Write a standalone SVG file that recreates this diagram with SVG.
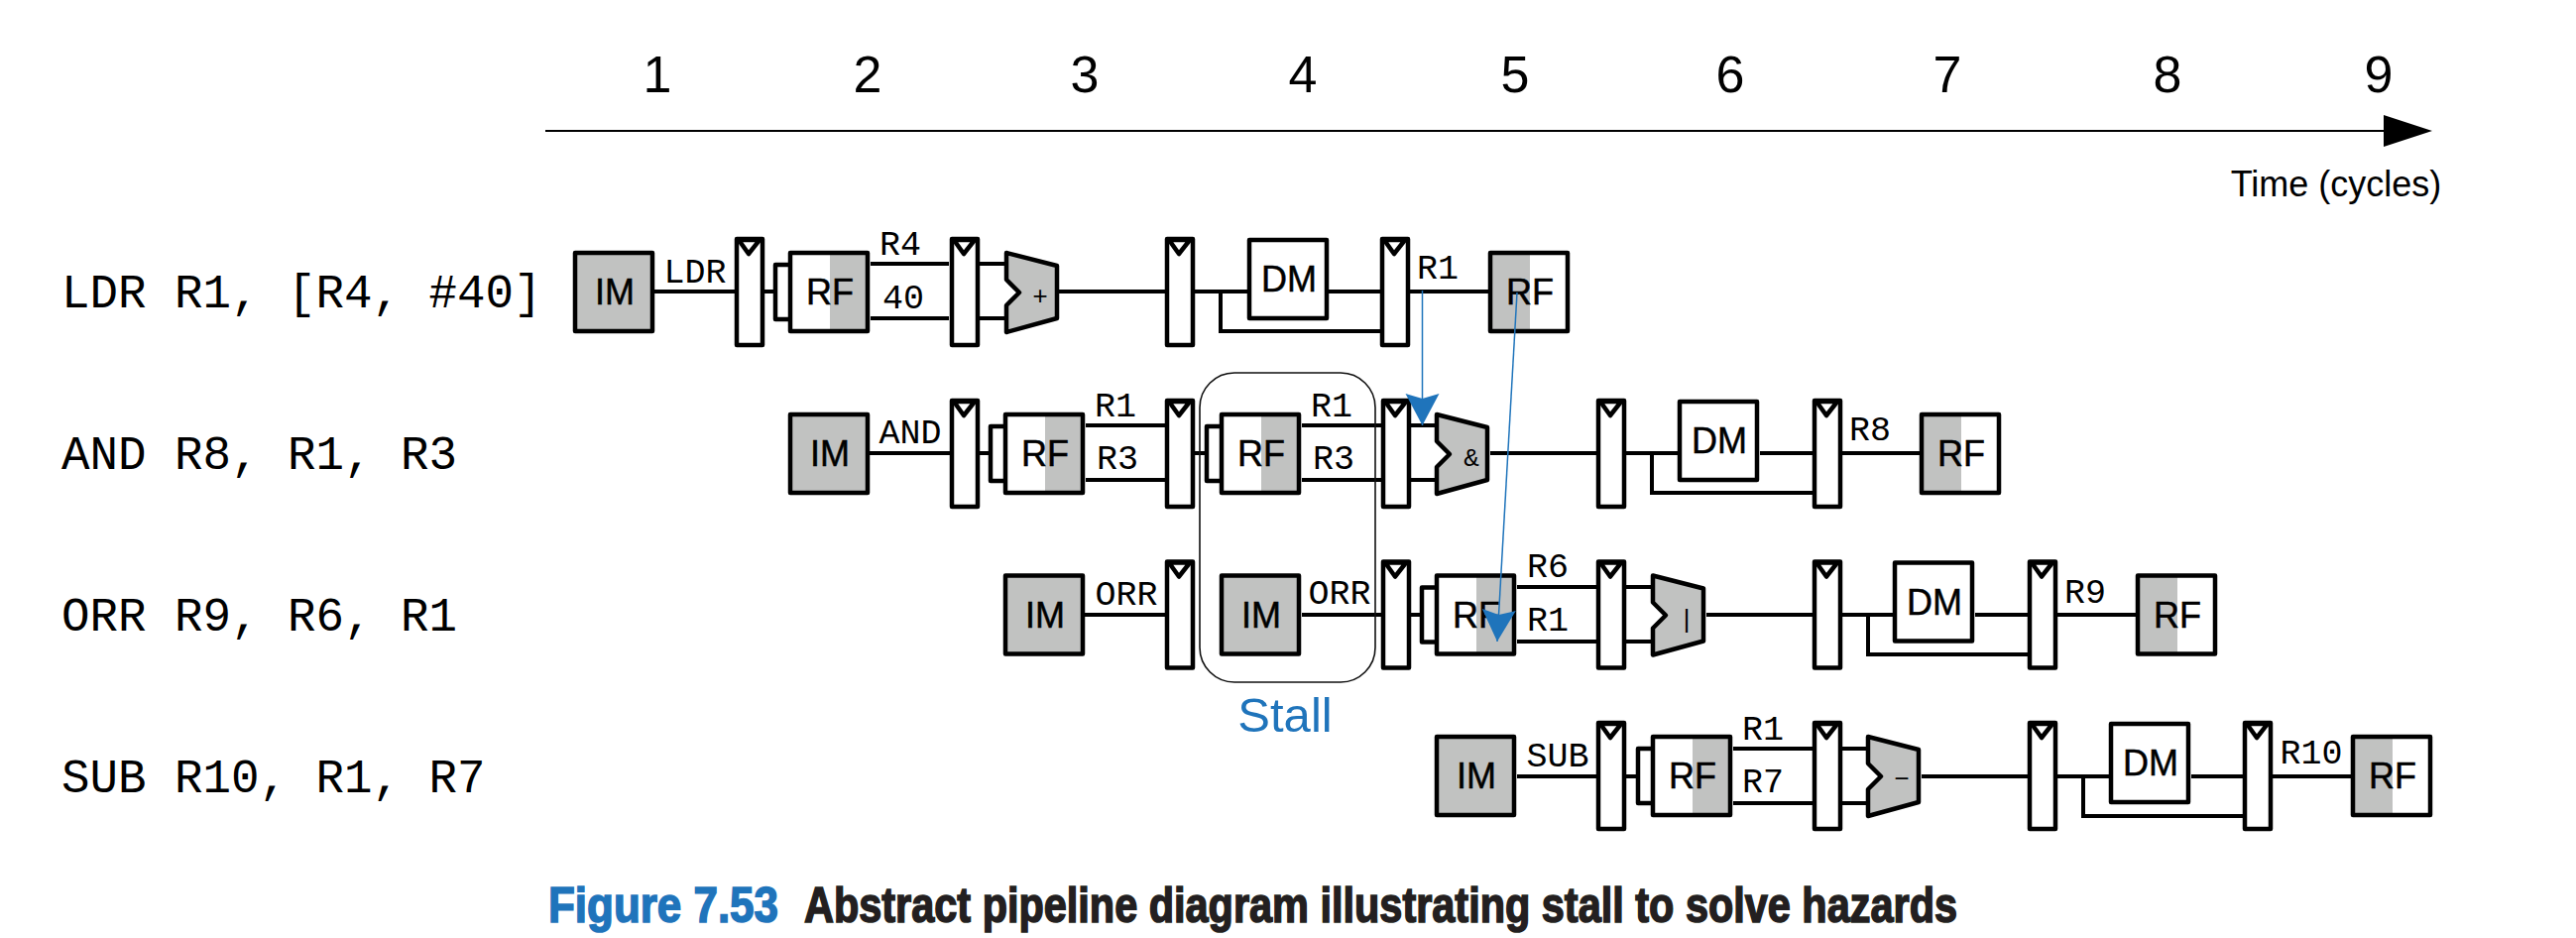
<svg xmlns="http://www.w3.org/2000/svg" xmlns:xlink="http://www.w3.org/1999/xlink" width="2598" height="946" viewBox="0 0 2598 946">
<style>
text{fill:#000}
.s{font-family:"Liberation Sans",Arial,sans-serif;text-anchor:middle}
.b{font-size:36px;stroke:#000;stroke-width:.5px}
.n{font-size:52px}
.m{font-family:"Liberation Mono","Courier New",monospace;text-anchor:middle;font-size:35px}
.i{font-family:"Liberation Mono","Courier New",monospace;font-size:47.5px}
.o{font-size:26px}
.w{fill:none;stroke:#000;stroke-width:4}
.bx{fill:none;stroke:#000;stroke-width:4.5;stroke-linejoin:round}
.wf{fill:#fff;stroke:#000;stroke-width:4.5;stroke-linejoin:round}
.gr{fill:#c1c2c1;stroke:#000;stroke-width:4.5;stroke-linejoin:round}
.sh{fill:#c1c2c1}
.bl{fill:none;stroke:#1f74bb;stroke-width:1.5;marker-end:url(#ba)}
.c{font-family:"Liberation Sans",Arial,sans-serif;font-weight:700;font-size:50px;stroke-width:1.6px}
</style>
<defs>
<marker id="ba" markerUnits="userSpaceOnUse" markerWidth="36" markerHeight="36" viewBox="0 0 36 36" refX="32" refY="18" orient="auto"><path d="M32,18L0,1L5,18L0,35Z" fill="#1f74bb"/></marker>
<g id="im"><rect class="gr" x="2" y="2" width="78" height="79"/><text class="s b" x="42" y="54">IM</text></g>
<g id="dm"><rect class="wf" x="2" y="2" width="78" height="79"/><text class="s b" x="42" y="54">DM</text></g>
<g id="rf"><path class="bx" d="M2,14H-13V69H2"/><rect x="2" y="2" width="78" height="79" fill="#fff"/><rect class="sh" x="42" y="2" width="38" height="79"/><rect class="bx" x="2" y="2" width="78" height="79"/><text class="s b" x="42" y="54">RF</text></g>
<g id="wb"><rect x="2" y="2" width="78" height="79" fill="#fff"/><rect class="sh" x="2" y="2" width="40" height="79"/><rect class="bx" x="2" y="2" width="78" height="79"/><text class="s b" x="42" y="54">RF</text></g>
<g id="rg"><rect class="wf" x="2" y="2" width="26" height="107"/><path class="bx" d="M4,3H25L14,17Z"/></g>
<polygon id="al" class="gr" points="2,2 53,15 53,68 2,82 2,55 15,42 2,29"/>
</defs>

<g id="axis"><path d="M550,132H2410" fill="none" stroke="#000" stroke-width="2"/><polygon points="2404,116 2453,132 2404,148" fill="#000"/>
<text class="s n" x="663" y="93">1</text><text class="s n" x="875" y="93">2</text><text class="s n" x="1094" y="93">3</text><text class="s n" x="1314" y="93">4</text><text class="s n" x="1528" y="93">5</text><text class="s n" x="1745" y="93">6</text><text class="s n" x="1964" y="93">7</text><text class="s n" x="2186" y="93">8</text><text class="s n" x="2399" y="93">9</text>
<text class="s" font-size="36" x="2356" y="198">Time (cycles)</text></g>

<g id="instructions">
<text class="i" x="62" y="310">LDR R1, [R4, #40]</text>
<text class="i" x="62" y="473">AND R8, R1, R3</text>
<text class="i" x="62" y="636">ORR R9, R6, R1</text>
<text class="i" x="62" y="799">SUB R10, R1, R7</text>
</g>

<g id="connectors" transform="translate(0,-1)">
<path class="w" d="M660,295H741M770,295H782M878,267H957M878,322H957M988,267H1015M988,322H1015M1068,295H1175M1205,295H1260M1231,295V335H1392M1340,295H1392M1422,295H1503"/>
<path class="w" d="M877,458H958M988,458H999M1095,430H1175M1095,485H1175M1205,458H1217M1313,430H1393M1313,485H1393M1422,430H1449M1422,485H1449M1503,458H1610M1640,458H1692M1666,458V498H1828M1775,458H1828M1858,458H1937"/>
<path class="w" d="M1094,621H1175M1313,621H1393M1422,621H1434M1530,593H1610M1530,648H1610M1640,593H1667M1640,648H1667M1721,621H1828M1858,621H1909M1884,621V661H2045M1992,621H2045M2075,621H2155"/>
<path class="w" d="M1530,784H1610M1640,784H1652M1748,756H1828M1748,811H1828M1858,756H1884M1858,811H1884M1938,784H2045M2075,784H2127M2101,784V824H2262M2210,784H2262M2292,784H2372"/>
</g>

<g id="row1">
<use id="n1im" href="#im" x="578" y="253"/><use id="n1r1" href="#rg" x="741" y="239"/><use id="n1rf" href="#rf" x="795" y="253"/><use id="n1r2" href="#rg" x="958" y="239"/><g id="n1alu"><use href="#al" x="1013" y="253"/><text class="m o" x="1049" y="307">+</text></g><use id="n1r3" href="#rg" x="1175" y="239"/><use id="n1dm" href="#dm" x="1258" y="240"/><use id="n1r4" href="#rg" x="1392" y="239"/><use id="n1wb" href="#wb" x="1501" y="253"/>
<text class="m" x="701" y="285">LDR</text><text class="m" x="908" y="257">R4</text><text class="m" x="911" y="311">40</text><text class="m" x="1450" y="281">R1</text>
</g>
<g id="row2">
<use id="n2im" href="#im" x="795" y="416"/><use id="n2r1" href="#rg" x="958" y="402"/><use id="n2rf" href="#rf" x="1012" y="416"/><use id="n2r2" href="#rg" x="1175" y="402"/><use id="n2rf2" href="#rf" x="1230" y="416"/><use id="n2r3" href="#rg" x="1393" y="402"/><g id="n2alu"><use href="#al" x="1447" y="416"/><text class="m o" x="1484" y="470">&amp;</text></g><use id="n2r4" href="#rg" x="1610" y="402"/><use id="n2dm" href="#dm" x="1692" y="403"/><use id="n2r5" href="#rg" x="1828" y="402"/><use id="n2wb" href="#wb" x="1936" y="416"/>
<text class="m" x="918" y="447">AND</text><text class="m" x="1125" y="420">R1</text><text class="m" x="1127" y="473">R3</text><text class="m" x="1343" y="420">R1</text><text class="m" x="1345" y="473">R3</text><text class="m" x="1886" y="444">R8</text>
</g>
<g id="row3" transform="translate(0,-.5)">
<use id="n3im" href="#im" x="1012" y="579"/><use id="n3r1" href="#rg" x="1175" y="565"/><use id="n3im2" href="#im" x="1230" y="579"/><use id="n3r2" href="#rg" x="1393" y="565"/><use id="n3rf" href="#rf" x="1447" y="579"/><use id="n3r3" href="#rg" x="1610" y="565"/><g id="n3alu"><use href="#al" x="1665" y="579"/><text class="m o" x="1701" y="633">|</text></g><use id="n3r4" href="#rg" x="1828" y="565"/><use id="n3dm" href="#dm" x="1909" y="566"/><use id="n3r5" href="#rg" x="2045" y="565"/><use id="n3wb" href="#wb" x="2154" y="579"/>
<text class="m" x="1136" y="610">ORR</text><text class="m" x="1351" y="609">ORR</text><text class="m" x="1561" y="582">R6</text><text class="m" x="1561" y="636">R1</text><text class="m" x="2103" y="608">R9</text>
</g>
<g id="row4" transform="translate(0,-1)">
<use id="n4im" href="#im" x="1447" y="742"/><use id="n4r1" href="#rg" x="1610" y="728"/><use id="n4rf" href="#rf" x="1665" y="742"/><use id="n4r2" href="#rg" x="1828" y="728"/><g id="n4alu"><use href="#al" x="1882" y="742"/><text class="m o" x="1918" y="795">−</text></g><use id="n4r3" href="#rg" x="2045" y="728"/><use id="n4dm" href="#dm" x="2127" y="729"/><use id="n4r4" href="#rg" x="2262" y="728"/><use id="n4wb" href="#wb" x="2371" y="742"/>
<text class="m" x="1571" y="774">SUB</text><text class="m" x="1778" y="747">R1</text><text class="m" x="1778" y="800">R7</text><text class="m" x="2331" y="771">R10</text>
</g>

<g id="stall"><rect x="1210" y="376" width="177" height="312" rx="35" ry="35" fill="none" stroke="#111" stroke-width="1.6"/>
<text class="s" font-size="49" x="1296" y="738" style="fill:#1f74bb">Stall</text></g>
<g id="hazards"><path class="bl" d="M1434.5,293V429"/><path class="bl" d="M1530,295L1510,647"/></g>

<g id="caption">
<text class="c" x="553" y="930" textLength="232" lengthAdjust="spacingAndGlyphs" style="fill:#1f74bb;stroke:#1f74bb">Figure 7.53</text>
<text class="c" x="811" y="930" textLength="1163" lengthAdjust="spacingAndGlyphs" style="fill:#231f20;stroke:#231f20">Abstract pipeline diagram illustrating stall to solve hazards</text>
</g>
</svg>
